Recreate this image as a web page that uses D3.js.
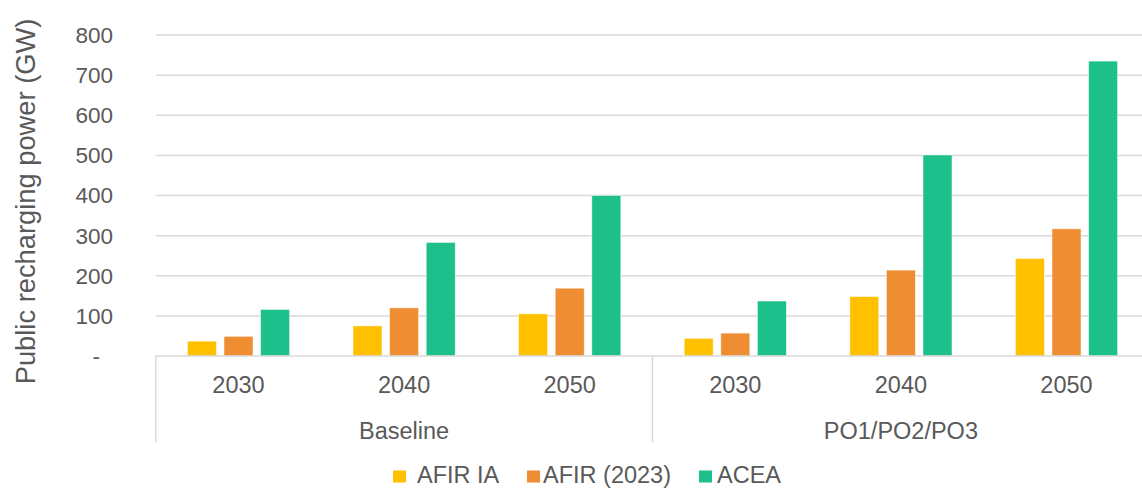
<!DOCTYPE html>
<html>
<head>
<meta charset="utf-8">
<script src="https://cdn.jsdelivr.net/npm/d3@7"></script>
<style>
  html, body { margin: 0; padding: 0; background: #fff; }
  text { font-family: "Liberation Sans", Arial, sans-serif; fill: #595959; }
</style>
</head>
<body>
<svg id="chart" width="1142" height="488"></svg>
<script>
// ---- data ----
const scenarios = ["Baseline", "PO1/PO2/PO3"];
const years = ["2030", "2040", "2050"];
const series = ["AFIR IA", "AFIR (2023)", "ACEA"];
const afirIA   = [37, 75, 105, 44, 148, 243];
const afir2023 = [49, 120, 169, 57, 214, 317];
const acea     = [116, 283, 400, 137, 501, 735];
const yTicks = [0, 100, 200, 300, 400, 500, 600, 700, 800];
const colors = ["#FFC000", "#EE8D32", "#1DC08A"];

// ---- layout ----
const svg = d3.select("#chart");
const mLeft = 155.7, mRight = 1149.3, mTop = 35, mBottom = 356;
const cats = [];
scenarios.forEach(s => years.forEach(y => cats.push(s + "|" + y)));
const values = [afirIA, afir2023, acea];

const x0 = d3.scaleBand().domain(cats).range([mLeft, mRight]).padding(0);
const x1 = d3.scaleBand().domain(series).range([0, x0.bandwidth()])
  .paddingInner(0.208).paddingOuter(0.866);
const y = d3.scaleLinear().domain([0, 800]).range([mBottom, mTop]);

// gridlines
svg.append("g").selectAll("line").data(yTicks.filter(d => d > 0)).join("line")
  .attr("x1", mLeft).attr("x2", mRight)
  .attr("y1", d => y(d)).attr("y2", d => y(d))
  .attr("stroke", "#d9d9d9").attr("stroke-width", 1.5);

// y tick labels
svg.append("g").selectAll("text").data(yTicks).join("text")
  .attr("x", d => d === 0 ? 100 : 113)
  .attr("y", d => y(d))
  .attr("dy", "0.35em")
  .attr("text-anchor", "end")
  .style("font-size", "22.5px")
  .text(d => d === 0 ? "-" : d3.format("d")(d));

// bars
const g = svg.append("g");
cats.forEach((c, ci) => {
  series.forEach((s, si) => {
    const v = values[si][ci];
    g.append("rect")
      .attr("x", x0(c) + x1(s))
      .attr("y", y(v))
      .attr("width", x1.bandwidth())
      .attr("height", y(0) - y(v))
      .attr("fill", colors[si])
      .attr("stroke", "#ffffff").attr("stroke-opacity", 0.6).attr("stroke-width", 0.8);
  });
});

// axis baseline
svg.append("line").attr("x1", mLeft).attr("x2", mRight)
  .attr("y1", mBottom).attr("y2", mBottom)
  .attr("stroke", "#d9d9d9").attr("stroke-width", 1.5);

// separators
const sepX = [x0(cats[0]), x0(cats[3]), mRight];
svg.append("g").selectAll("line").data(sepX).join("line")
  .attr("x1", d => d).attr("x2", d => d)
  .attr("y1", mBottom).attr("y2", 442)
  .attr("stroke", "#d9d9d9").attr("stroke-width", 1.5);

// year labels
svg.append("g").selectAll("text").data(cats).join("text")
  .attr("x", d => x0(d) + x0.bandwidth() / 2)
  .attr("y", 393)
  .attr("text-anchor", "middle")
  .style("font-size", "23.5px")
  .text(d => d.split("|")[1]);

// scenario labels
svg.append("g").selectAll("text").data(scenarios).join("text")
  .attr("x", (d, i) => x0(cats[i * 3]) + x0.bandwidth() * 1.5)
  .attr("y", 439)
  .attr("text-anchor", "middle")
  .style("font-size", "23.5px")
  .text(d => d);

// y axis title
svg.append("text")
  .attr("transform", `translate(35, ${(15 + 388) / 2}) rotate(-90)`)
  .attr("text-anchor", "middle")
  .style("font-size", "27.3px")
  .text("Public recharging power (GW)");

// legend
const legX = [393, 527, 699];
const legT = [417, 543, 717];
const leg = svg.append("g");
series.forEach((s, i) => {
  leg.append("rect").attr("x", legX[i]).attr("y", 470.5).attr("width", 13).attr("height", 12)
    .attr("fill", colors[i]);
  leg.append("text").attr("x", legT[i]).attr("y", 483)
    .style("font-size", "23.5px").text(s);
});
</script>
</body>
</html>
